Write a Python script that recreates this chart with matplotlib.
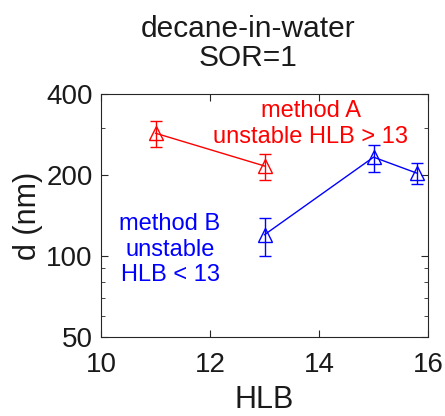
import matplotlib.pyplot as plt
from matplotlib.ticker import LogLocator, NullFormatter, FixedLocator, FixedFormatter

plt.rcParams['font.family'] = ['Liberation Sans', 'DejaVu Sans']

# method A (red)
hlb_a = [11, 13]
d_a = [286, 216]
err_a_lo = [31, 24]
err_a_hi = [32, 23]

# method B (blue)
hlb_b = [13, 15, 15.8]
d_b = [120, 233, 203]
err_b_lo = [20, 28, 18]
err_b_hi = [19, 25, 19]

yticks = [50, 100, 200, 400]
xticks = [10, 12, 14, 16]

fig = plt.figure(figsize=(4.45, 4.16), dpi=100)
ax = fig.add_axes([0.227, 0.190, 0.735, 0.584])

ax.errorbar(hlb_a, d_a, yerr=[err_a_lo, err_a_hi], color='#ff0000', marker='^',
            mfc='none', ms=10, mew=1, lw=1, capsize=4, elinewidth=1)
ax.errorbar(hlb_b, d_b, yerr=[err_b_lo, err_b_hi], color='#0000ff', marker='^',
            mfc='none', ms=10, mew=1, lw=1, capsize=4, elinewidth=1)

ax.set_yscale('log')
ax.set_ylim(50, 400)
ax.set_xlim(10, 16)
ax.yaxis.set_major_locator(FixedLocator(yticks))
ax.yaxis.set_major_formatter(FixedFormatter([str(t) for t in yticks]))
ax.yaxis.set_minor_locator(LogLocator(subs=range(2, 10)))
ax.yaxis.set_minor_formatter(NullFormatter())
ax.set_xticks(xticks)

for s in ax.spines.values():
    s.set_color('#262626')
ax.tick_params(which='both', direction='in', top=True, right=True, colors='#262626',
               labelcolor='#1a1a1a', labelsize=20)
ax.tick_params(which='major', length=5)
ax.tick_params(which='minor', length=3)
ax.tick_params(axis='x', pad=11)
ax.tick_params(axis='y', pad=6)

ax.set_xlabel('HLB', fontsize=22, color='#1a1a1a', labelpad=5)
ax.set_ylabel('d (nm)', fontsize=22, color='#1a1a1a', labelpad=2)

fig.text(0.557, 0.895, 'decane-in-water\nSOR=1', ha='center', va='center',
         fontsize=21.5, color='#1a1a1a', linespacing=1.05)

ax.text(0.642, 0.878, 'method A\nunstable HLB > 13', transform=ax.transAxes,
        ha='center', va='center', fontsize=17, color='#ff0000', linespacing=1.22)
ax.text(0.211, 0.359, 'method B\nunstable\nHLB < 13', transform=ax.transAxes,
        ha='center', va='center', fontsize=17, color='#0000ff', linespacing=1.22)

fig.savefig('out.png', dpi=100)
